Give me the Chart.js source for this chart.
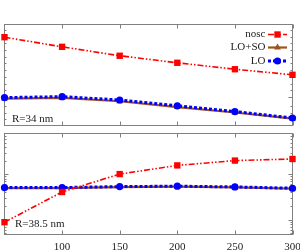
<!DOCTYPE html>
<html><head><meta charset="utf-8">
<script src="https://cdn.jsdelivr.net/npm/chart.js@4/dist/chart.umd.min.js"></script>
<style>
html,body{margin:0;padding:0;background:#fff;}
#wrap{position:relative;width:300px;height:252px;overflow:hidden;background:#fff;}
canvas{position:absolute;left:0;}
</style></head><body>
<div id="wrap">
<canvas id="cTop" width="300" height="130" style="top:0px"></canvas>
<canvas id="cBot" width="300" height="123" style="top:129px"></canvas>
</div>
<script>
// ---- data ----
const sizes = [50, 100, 150, 200, 250, 300];
const xTickValues = [100, 150, 200, 250, 300];
const seriesNames = ['nosc', 'LO+SO', 'LO'];
const panelLabels = ['R=34 nm', 'R=38.5 nm'];

// top panel (R=34 nm), linear scale, arbitrary units
const topNosc = [91.8, 81.8, 72.5, 65.2, 58.5, 52.7];
const topLOSO = [28.0, 28.7, 25.2, 19.2, 13.5, 7.2];
const topLO   = [29.0, 30.0, 26.5, 20.5, 14.5, 7.8];
const topYMinorTicks = [99.5, 92.5, 85.5, 78.5, 71.5, 64.5, 57.5, 50.5, 43.5, 36.5, 20.5, 13.5, 6.5];
const topYMajorTicks = [29.5];

// bottom panel (R=38.5 nm), logarithmic scale
const botNosc = [0.876, 4.08, 10.15, 15.8, 20.2, 21.9];
const botLOSO = [4.98, 4.98, 5.24, 5.35, 5.15, 4.82];
const botLO   = [5.11, 5.11, 5.37, 5.48, 5.28, 4.94];
const botYMinorTicks = [0.5, 0.6, 0.7, 0.8, 0.9, 2, 3, 4, 5, 6, 7, 8, 9, 20, 30, 40, 50, 60, 70];
const botYMajorTicks = [1, 10];

const FONT = '11px "Liberation Serif", "DejaVu Serif", serif';
const FRAME = '#808080';

function styles() {
  return [
    {label: seriesNames[0], borderColor: '#ff0000', backgroundColor: '#ff0000', borderWidth: 1.6,
     borderDash: [6, 2, 1.5, 2, 1.5, 2], pointStyle: 'rect', pointRadius: 4.5, pointBorderWidth: 0},
    {label: seriesNames[2], borderColor: '#0000ff', backgroundColor: '#0000ff', borderWidth: 3,
     borderDash: [3, 2], pointStyle: 'circle', pointRadius: 3.6, pointBorderWidth: 0},
    {label: seriesNames[1], borderColor: '#a0521e', backgroundColor: '#a0521e', borderWidth: 2.2,
     borderDash: [], pointStyle: 'triangle', pointRadius: 4, pointBorderWidth: 0}
  ];
}

function drawMarker(ctx, style, r, x, y) {
  ctx.save();
  Chart.helpers.drawPoint(ctx, {pointStyle: style, radius: r, rotation: 0, borderWidth: 0}, x, y);
  ctx.restore();
}

const framePlugin = {
  id: 'frame',
  beforeDatasetsDraw(chart, args, o) {
    const ctx = chart.ctx, a = chart.chartArea, xs = chart.scales.x, ys = chart.scales.y;
    ctx.save();
    ctx.strokeStyle = FRAME; ctx.lineWidth = 1;
    ctx.strokeRect(a.left, a.top, a.right - a.left, a.bottom - a.top);
    ctx.beginPath();
    xTickValues.forEach(v => {
      const px = Math.round(xs.getPixelForValue(v)) + 0.5;
      ctx.moveTo(px, a.top); ctx.lineTo(px, a.top + 4);
      ctx.moveTo(px, a.bottom); ctx.lineTo(px, a.bottom - 4);
    });
    o.minor.forEach(v => {
      const py = Math.round(ys.getPixelForValue(v)) + 0.5;
      ctx.moveTo(a.left, py); ctx.lineTo(a.left + 2, py);
      ctx.moveTo(a.right, py); ctx.lineTo(a.right - 2, py);
    });
    o.major.forEach(v => {
      const py = Math.round(ys.getPixelForValue(v)) + 0.5;
      ctx.moveTo(a.left, py); ctx.lineTo(a.left + 4, py);
      ctx.moveTo(a.right, py); ctx.lineTo(a.right - 4, py);
    });
    ctx.stroke();
    ctx.restore();
  },
  afterDraw(chart, args, o) {
    const ctx = chart.ctx, a = chart.chartArea, xs = chart.scales.x;
    ctx.save();
    ctx.font = FONT; ctx.fillStyle = '#222';
    ctx.textBaseline = 'middle'; ctx.textAlign = 'left';
    ctx.fillText(o.label, o.labelX, o.labelY);
    if (o.xLabels) {
      ctx.textAlign = 'center';
      xTickValues.forEach(v => ctx.fillText(String(v), xs.getPixelForValue(v), a.bottom + 12.5));
    }
    if (o.legend) {
      const order = [0, 2, 1];
      const ys = [34.5, 47.5, 61];
      order.forEach((di, i) => {
        const ds = chart.data.datasets[di];
        const y = ys[i];
        ctx.textAlign = 'right'; ctx.fillStyle = '#222';
        ctx.fillText(ds.label, 265.5, y);
        ctx.save();
        ctx.strokeStyle = ds.borderColor; ctx.lineWidth = ds.borderWidth;
        ctx.setLineDash(ds.borderDash);
        ctx.beginPath(); ctx.moveTo(268, y); ctx.lineTo(287, y); ctx.stroke();
        ctx.restore();
        ctx.fillStyle = ds.backgroundColor;
        drawMarker(ctx, ds.pointStyle, ds.pointRadius, 277.5, y);
      });
    }
    ctx.restore();
  }
};

function makeChart(id, dataArrs, yOpts, frameOpts, padBottom) {
  const st = styles();
  const ds = st.map((s, i) => Object.assign({}, s, {
    data: dataArrs[i], pointBackgroundColor: s.backgroundColor, fill: false, tension: 0, clip: false
  }));
  return new Chart(document.getElementById(id), {
    type: 'line',
    data: {labels: sizes, datasets: ds},
    options: {
      responsive: false, animation: false, devicePixelRatio: 1,
      layout: {padding: {left: 0.5, right: 7.5, top: frameOpts.padTop, bottom: padBottom}},
      plugins: {legend: {display: false}, tooltip: {enabled: false}, frame: frameOpts},
      scales: {
        x: {type: 'linear', min: 50, max: 300, display: false},
        y: Object.assign({display: false}, yOpts)
      }
    },
    plugins: [framePlugin]
  });
}

makeChart('cTop', [topNosc, topLO, topLOSO], {type: 'linear', min: 0, max: 105},
  {padTop: 24.5, minor: topYMinorTicks, major: topYMajorTicks, label: panelLabels[0],
   labelX: 12, labelY: 119.5, xLabels: false, legend: true}, 0.5);
makeChart('cBot', [botNosc, botLO, botLOSO], {type: 'logarithmic', min: 0.468, max: 80.2},
  {padTop: 0.5, minor: botYMinorTicks, major: botYMajorTicks, label: panelLabels[1],
   labelX: 15, labelY: 95, xLabels: true, legend: false}, 17.5);
</script>
</body></html>
